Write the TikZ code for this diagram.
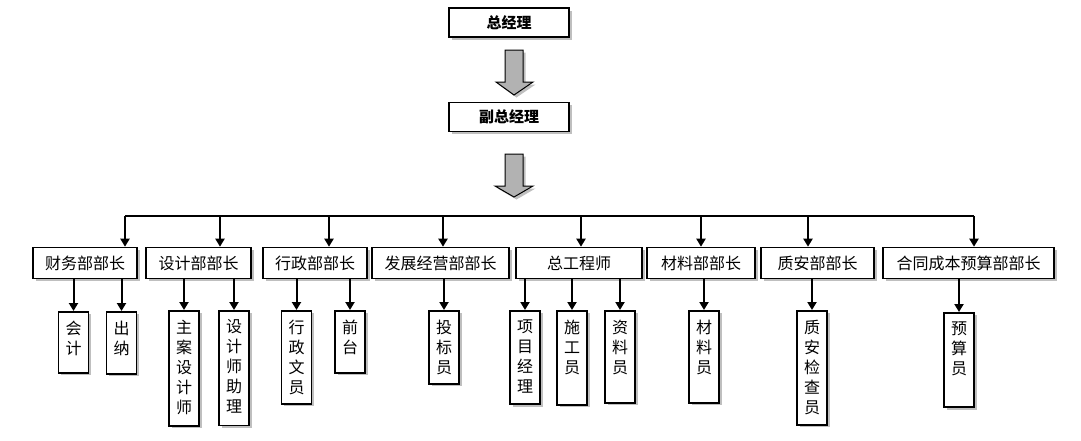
\documentclass[tikz,border=0pt]{standalone}
\usepackage{fontspec}
\setmainfont{Noto Sans CJK SC}
\usetikzlibrary{arrows.meta,shadows}

\tikzset{
  shade box/.style={drop shadow={shadow xshift=2.5pt,shadow yshift=-2.5pt,fill=black!50,opacity=0.5}},
  head/.style={draw, line width=1.6pt, fill=white, shade box, minimum width=120, minimum height=29, font=\bfseries\fontsize{15}{18}\selectfont},
  dept/.style={draw, line width=1.6pt, fill=white, shade box, minimum height=31, inner sep=1, font=\fontsize{16}{19}\selectfont},
  staff/.style={draw, line width=1.6pt, fill=white, shade box, anchor=north, minimum width=30, inner xsep=1, inner ysep=9, align=center, font=\fontsize{16}{20}\selectfont, text depth=#1pt},
  bigarrow/.style={draw, line width=1pt, fill=black!30, shade box},
}

\begin{document}
\begin{tikzpicture}[x=1pt, y=-1pt, >={Triangle[width=9pt,length=8pt]}, line width=2pt]
\useasboundingbox (0,0) rectangle (1081,440);
% top
\node[head] (zjl) at (509,22.5) {总经理};
\node[head] (fzjl) at (509,117) {副总经理};
\draw[bigarrow] (505,50) -- (523,50) -- (523,82) -- (533,82) -- (514,95) -- (496,82) -- (505,82) -- cycle;
\draw[bigarrow] (505,154) -- (523,154) -- (523,186) -- (533,186) -- (514,197) -- (495,186) -- (505,186) -- cycle;
% departments
\node[dept, minimum width=104] (cw) at (85,263) {财务部部长};
\node[dept, minimum width=105] (sj) at (198.5,263) {设计部部长};
\node[dept, minimum width=104] (xz) at (315,263) {行政部部长};
\node[dept, minimum width=137] (fz) at (440.5,263) {发展经营部部长};
\node[dept, minimum width=126] (zg) at (579,263) {总工程师};
\node[dept, minimum width=108] (cl) at (701,263) {材料部部长};
\node[dept, minimum width=113] (za) at (817.5,263) {质安部部长};
\node[dept, minimum width=171] (ht) at (968.5,263) {合同成本预算部部长};
\foreach \x/\d in {125/cw,220/sj,329/xz,443/fz,581/zg,701/cl,808/za,974/ht}
{
  \coordinate (top-\d) at (\x,216);
  \draw[->] (top-\d) -- (top-\d |- \d.north);
}
\draw (top-cw) -- (top-ht);
% staff
\node[staff=9.6] (kj) at (73.5,311) {会\\计};
\node[staff=10.6] (cn) at (121.5,311) {出\\纳};
\node[staff=3.6] (zasj) at (184,310) {主\\案\\设\\计\\师};
\node[staff=3.6] (sjzl) at (234,310) {设\\计\\师\\助\\理};
\node[staff=1.6] (xzwy) at (296.5,310) {行\\政\\文\\员};
\node[staff=10.6] (qt) at (350,310) {前\\台};
\node[staff=1.6] (tby) at (444,310) {投\\标\\员};
\node[staff=2.6] (xmjl) at (525,310) {项\\目\\经\\理};
\node[staff=22.6] (sgy) at (572,310) {施\\工\\员};
\node[staff=20.6] (zly) at (620,310) {资\\料\\员};
\node[staff=20.6] (cly) at (704,310) {材\\料\\员};
\node[staff=2.6] (zajcy) at (812,310) {质\\安\\检\\查\\员};
\node[staff=23.6] (ysy) at (959,312) {预\\算\\员};
\foreach \d/\c in {cw/kj,cw/cn,sj/zasj,sj/sjzl,xz/xzwy,xz/qt,fz/tby,zg/xmjl,zg/sgy,zg/zly,cl/cly,za/zajcy,ht/ysy}
  \draw[->] (\c.north |- \d.south) -- (\c.north);
\end{tikzpicture}
\end{document}
